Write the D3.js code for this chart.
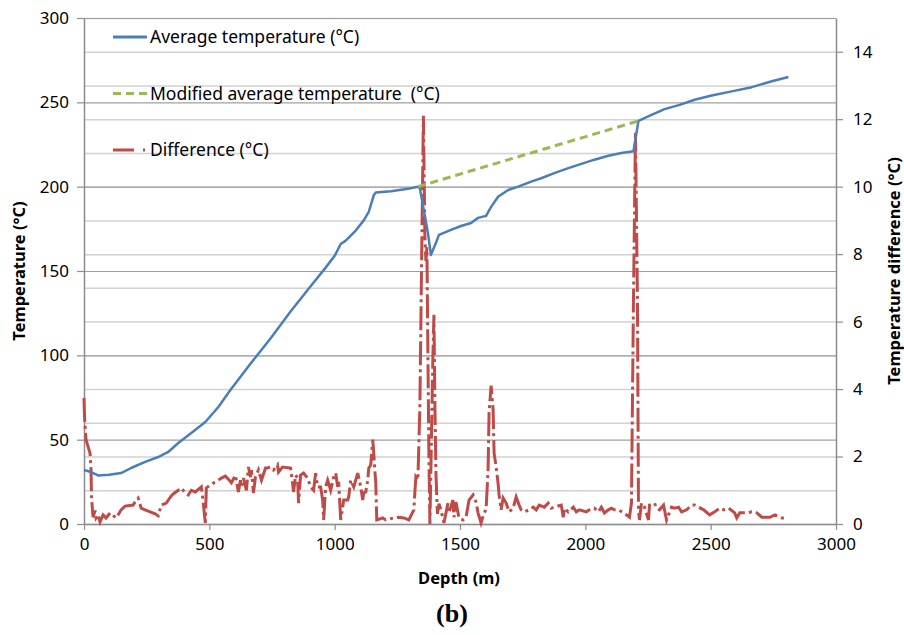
<!DOCTYPE html>
<html>
<head>
<meta charset="utf-8">
<script src="https://cdn.jsdelivr.net/npm/d3@7"></script>
<style>
  body { margin: 0; background: #fff; }
  svg text { font-family: "Noto Sans", "Open Sans", sans-serif; fill: #000; white-space: pre; }
</style>
</head>
<body>
<div id="chart"></div>
<script>
// Average temperature (left axis)
const avgDepth = [0, 28, 56, 100, 148, 188, 244, 296, 336, 376, 428, 484, 536, 584, 664, 744, 824, 904, 964, 1000, 1024, 1044, 1084, 1116, 1136, 1156, 1164, 1224, 1292, 1332, 1340, 1372, 1384, 1404, 1416, 1464, 1504, 1544, 1572, 1604, 1624, 1652, 1692, 1732, 1784, 1824, 1876, 1932, 1984, 2036, 2092, 2144, 2192, 2212, 2264, 2316, 2376, 2436, 2504, 2584, 2664, 2744, 2810]
const avgTemp = [32, 30.8, 28.8, 29.2, 30.2, 33.2, 36.8, 39.7, 42.7, 48, 54, 60.5, 69.4, 79.5, 95, 110, 126, 141, 152, 159, 166, 168, 174, 180, 185, 195, 196.5, 197.3, 198.7, 200, 199, 172.6, 159.5, 166.7, 171.4, 174.4, 176.7, 178.5, 181.5, 182.7, 188, 194, 198, 200, 203, 205, 208, 211, 213.5, 216, 218.3, 220, 221, 239, 242.6, 246, 248.5, 251.5, 254, 256.5, 259, 262.5, 265]

// Modified average temperature (left axis)
const modDepth = [1332, 2212]
const modTemp = [200, 239]

// Difference (right axis)
const diffDepth = [0, 2, 8, 24, 28, 30, 36, 44, 48, 56, 64, 76, 88, 104, 128, 136, 148, 164, 196, 208, 216, 228, 244, 264, 284, 296, 308, 328, 348, 356, 376, 388, 404, 416, 428, 444, 468, 476, 484, 488, 504, 536, 548, 564, 576, 588, 604, 616, 624, 628, 636, 648, 656, 664, 668, 676, 684, 696, 708, 724, 732, 744, 756, 772, 776, 792, 824, 832, 836, 844, 852, 856, 864, 876, 892, 904, 916, 924, 932, 944, 952, 956, 964, 972, 984, 996, 1004, 1012, 1016, 1024, 1032, 1036, 1052, 1056, 1064, 1076, 1084, 1092, 1104, 1112, 1116, 1124, 1132, 1136, 1144, 1152, 1156, 1160, 1164, 1168, 1192, 1204, 1236, 1256, 1276, 1296, 1316, 1320, 1324, 1332, 1340, 1348, 1354, 1360, 1364, 1368, 1372, 1376, 1380, 1386, 1392, 1396, 1400, 1404, 1410, 1416, 1424, 1436, 1452, 1456, 1472, 1476, 1484, 1496, 1512, 1524, 1536, 1552, 1564, 1572, 1584, 1596, 1604, 1612, 1616, 1624, 1632, 1636, 1644, 1652, 1656, 1664, 1672, 1684, 1696, 1712, 1724, 1736, 1744, 1756, 1776, 1792, 1804, 1816, 1836, 1852, 1864, 1876, 1904, 1912, 1916, 1932, 1952, 1964, 1976, 2004, 2016, 2036, 2052, 2064, 2076, 2092, 2104, 2116, 2132, 2152, 2164, 2176, 2184, 2192, 2200, 2208, 2212, 2216, 2224, 2236, 2252, 2256, 2276, 2284, 2296, 2312, 2324, 2344, 2356, 2372, 2384, 2404, 2424, 2436, 2452, 2472, 2496, 2516, 2536, 2552, 2572, 2596, 2604, 2616, 2644, 2664, 2684, 2704, 2736, 2756, 2784, 2804]
const diffValue = [3.74, 3.2, 2.5, 2.1, 1.6, 0.8, 0.2, 0.4, 0.18, 0.27, 0.06, 0.27, 0.18, 0.33, 0.18, 0.27, 0.42, 0.53, 0.56, 0.71, 0.77, 0.47, 0.42, 0.36, 0.3, 0.24, 0.56, 0.62, 0.83, 0.89, 1.0, 1.07, 0.92, 0.86, 1.0, 0.95, 1.1, 0.62, 0.03, 1.07, 1.16, 1.3, 1.36, 1.42, 1.33, 1.22, 1.45, 0.95, 1.3, 1.1, 1.36, 1.0, 1.69, 1.39, 1.6, 0.92, 1.39, 1.6, 1.3, 1.66, 1.66, 1.69, 1.6, 1.75, 1.54, 1.69, 1.66, 1.22, 0.95, 1.45, 1.36, 0.62, 1.45, 1.51, 1.36, 1.1, 1.0, 1.51, 1.1, 1.1, 0.71, 0.12, 1.1, 1.3, 1.0, 1.39, 1.51, 1.1, 1.25, 0.12, 0.5, 0.71, 0.71, 0.8, 1.3, 1.1, 1.3, 1.51, 1.1, 0.71, 0.92, 0.95, 1.3, 1.66, 1.75, 2.5, 2.1, 1.6, 1.22, 0.12, 0.18, 0.12, 0.18, 0.2, 0.18, 0.12, 0.42, 0.95, 1.39, 1.3, 3.5, 8.5, 12.1, 8.5, 7.8, 8.2, 5, 2, 0, 2.5, 5, 6.2, 3.5, 1.5, 0.3, 0.6, 0.42, 0.03, 0.62, 0.33, 0.71, 0.2, 0.65, 0.18, 0.12, 0.2, 0.71, 0.86, 0.65, 0.33, 0.03, 0.33, 0.42, 1.6, 3.3, 4.1, 3.4, 2.1, 1.7, 1.2, 0.86, 0.42, 0.77, 0.62, 0.36, 0.47, 0.8, 0.56, 0.42, 0.36, 0.42, 0.5, 0.42, 0.56, 0.5, 0.62, 0.47, 0.5, 0.56, 0.2, 0.47, 0.36, 0.5, 0.36, 0.42, 0.36, 0.42, 0.47, 0.36, 0.5, 0.33, 0.42, 0.47, 0.42, 0.42, 0.33, 0.27, 0.2, 0.62, 6.6, 11.6, 6.6, 0.42, 0.12, 0.62, 0.5, 0.12, 0.56, 0.62, 0.47, 0.42, 0.56, 0.12, 0.5, 0.47, 0.5, 0.36, 0.42, 0.56, 0.56, 0.5, 0.42, 0.27, 0.36, 0.47, 0.42, 0.47, 0.33, 0.18, 0.33, 0.33, 0.36, 0.33, 0.2, 0.2, 0.27, 0.18, 0.18]

// Ticks
const xTicks = [0, 500, 1000, 1500, 2000, 2500, 3000]
const leftTicks = [0, 50, 100, 150, 200, 250, 300]
const rightTicks = [0, 2, 4, 6, 8, 10, 12, 14]
const rightGrid = d3.range(0, 16)

const legendLabels = ["Average temperature (°C)", "Modified average temperature  (°C)", "Difference (°C)"]

const blue = "#4a7ebb", green = "#98b954", red = "#be4b48"

const margin = { top: 18, right: 68, bottom: 111, left: 84 },
    W = 904, H = 635,
    width = W - margin.left - margin.right,
    height = H - margin.top - margin.bottom

const svg = d3.select("#chart").append("svg")
    .attr("width", W).attr("height", H)

const g = svg.append("g")
    .attr("transform", "translate(" + margin.left + "," + margin.top + ")")

const x = d3.scaleLinear().domain([0, 3000]).range([0, width])
const yL = d3.scaleLinear().domain([0, 300]).range([height, 0])
const yR = d3.scaleLinear().domain([0, 15]).range([height, 0])

// gridlines (right axis, lighter)
g.append("g")
    .call(d3.axisRight(yR).tickValues(rightGrid).tickSize(width).tickFormat(""))
    .call(s => s.select(".domain").remove())
    .call(s => s.selectAll("line").attr("stroke", "#d2d2d2").attr("stroke-width", 1.5))

// gridlines (left axis, darker)
g.append("g")
    .call(d3.axisRight(yL).tickValues(leftTicks).tickSize(width).tickFormat(""))
    .call(s => s.select(".domain").remove())
    .call(s => s.selectAll("line").attr("stroke", "#a0a0a0").attr("stroke-width", 1.2))

// axes
function styleAxis(s) {
    s.select(".domain").attr("stroke", "#8c8c8c").attr("stroke-width", 1.5)
    s.selectAll(".tick line").attr("stroke", "#8c8c8c").attr("stroke-width", 1.2)
    s.selectAll(".tick text").attr("font-size", 17).attr("fill", "#000")
}

g.append("g")
    .attr("transform", "translate(0," + height + ")")
    .call(d3.axisBottom(x).tickValues(xTicks).tickSize(6).tickSizeOuter(0).tickPadding(8).tickFormat(d => d))
    .call(styleAxis)

g.append("g")
    .call(d3.axisLeft(yL).tickValues(leftTicks).tickSize(7).tickSizeOuter(0).tickPadding(8))
    .call(styleAxis)

g.append("g")
    .attr("transform", "translate(" + width + ",0)")
    .call(d3.axisRight(yR).tickValues(rightTicks).tickSize(7).tickSizeOuter(0).tickPadding(10))
    .call(styleAxis)

// lines
const lineL = d3.line().x(d => x(d[0])).y(d => yL(d[1]))
const lineR = d3.line().x(d => x(d[0])).y(d => yR(d[1]))

g.append("path")
    .datum(diffDepth.map((d, i) => [d, diffValue[i]]))
    .attr("d", lineR)
    .attr("fill", "none").attr("stroke", red).attr("stroke-width", 3)
    .attr("stroke-dasharray", "24,4,3,4")

g.append("path")
    .datum(avgDepth.map((d, i) => [d, avgTemp[i]]))
    .attr("d", lineL)
    .attr("fill", "none").attr("stroke", blue).attr("stroke-width", 2.5)
    .attr("stroke-linejoin", "round")

g.append("path")
    .datum(modDepth.map((d, i) => [d, modTemp[i]]))
    .attr("d", lineL)
    .attr("fill", "none").attr("stroke", green).attr("stroke-width", 3)
    .attr("stroke-dasharray", "8,5")

// legend
const legendStyles = [
    { color: blue, dash: null },
    { color: green, dash: "8,5" },
    { color: red, dash: "21,9,2,20" }
]
const legend = svg.append("g").attr("transform", "translate(113,37)")
legendLabels.forEach((label, i) => {
    const ly = i * 56.5
    legend.append("line")
        .attr("x1", 0).attr("x2", 34).attr("y1", ly).attr("y2", ly)
        .attr("stroke", legendStyles[i].color).attr("stroke-width", 3)
        .attr("stroke-dasharray", legendStyles[i].dash)
    legend.append("text")
        .attr("x", 37).attr("y", ly + 6)
        .attr("font-size", 17.5)
        .text(label)
})

// axis titles
svg.append("text")
    .attr("x", margin.left + width / 2 - 1).attr("y", 584)
    .attr("text-anchor", "middle").attr("font-size", 16.5).attr("font-weight", "bold")
    .text("Depth (m)")

svg.append("text")
    .attr("transform", "translate(25," + (margin.top + height / 2) + ") rotate(-90)")
    .attr("text-anchor", "middle").attr("font-size", 16.5).attr("font-weight", "bold")
    .text("Temperature (°C)")

svg.append("text")
    .attr("transform", "translate(900," + (margin.top + height / 2) + ") rotate(-90)")
    .attr("text-anchor", "middle").attr("font-size", 16.5).attr("font-weight", "bold")
    .text("Temperature difference (°C)")

svg.append("text")
    .attr("x", 452).attr("y", 622)
    .attr("text-anchor", "middle").attr("font-size", 26).attr("font-weight", "bold")
    .style("font-family", "'Liberation Serif', 'DejaVu Serif', serif")
    .text("(b)")
</script>
</body>
</html>
